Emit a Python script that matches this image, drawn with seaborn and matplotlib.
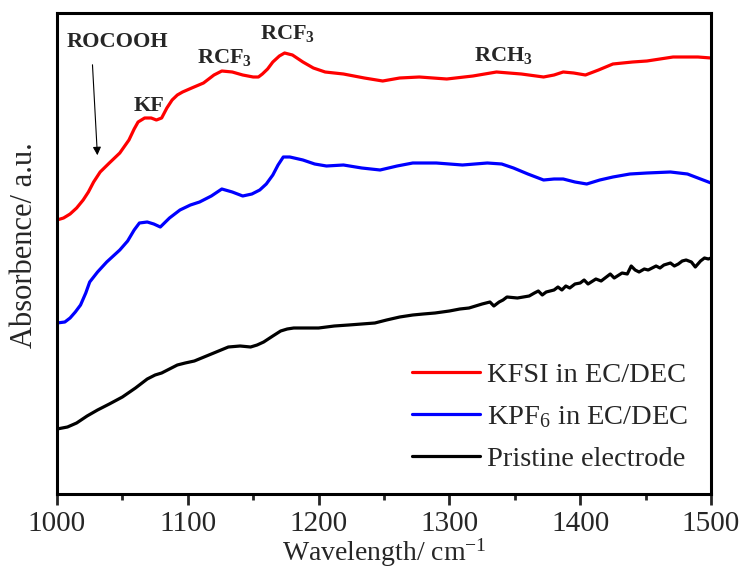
import numpy as np
import pandas as pd
import matplotlib
matplotlib.use("Agg")
import matplotlib.pyplot as plt
import seaborn as sns
from matplotlib.ticker import MultipleLocator

# ---- data ----
red_x = [1000, 1005, 1010, 1015, 1020, 1024, 1028, 1033, 1040, 1048, 1055, 1059, 1062, 1067,
         1072, 1076, 1080, 1084, 1088, 1092, 1096, 1103, 1112, 1120, 1126, 1134, 1142, 1150,
         1154, 1157, 1161, 1165, 1170, 1174, 1180, 1188, 1196, 1205, 1219, 1235, 1249, 1262,
         1277, 1298, 1318, 1336, 1355, 1372, 1380, 1387, 1395, 1404, 1414, 1425, 1440, 1451,
         1471, 1490, 1500]
red_y = [2.74, 2.76, 2.80, 2.86, 2.94, 3.02, 3.12, 3.22, 3.31, 3.41, 3.54, 3.65, 3.72, 3.76,
         3.76, 3.74, 3.76, 3.86, 3.94, 3.99, 4.02, 4.06, 4.11, 4.19, 4.23, 4.22, 4.19, 4.17,
         4.17, 4.20, 4.25, 4.32, 4.38, 4.41, 4.39, 4.32, 4.26, 4.22, 4.20, 4.16, 4.13, 4.16,
         4.17, 4.15, 4.18, 4.22, 4.20, 4.17, 4.19, 4.22, 4.21, 4.19, 4.24, 4.30, 4.32, 4.33,
         4.37, 4.37, 4.36]

blue_x = [1000, 1006, 1010, 1014, 1018, 1022, 1025, 1031, 1038, 1048, 1054, 1059, 1063, 1069,
          1074, 1079, 1086, 1094, 1102, 1109, 1118, 1126, 1134, 1142, 1149, 1155, 1160, 1165,
          1169, 1173, 1178, 1188, 1197, 1206, 1219, 1233, 1247, 1260, 1272, 1290, 1310, 1329,
          1340, 1349, 1360, 1372, 1380, 1387, 1396, 1405, 1415, 1425, 1438, 1451, 1469, 1482,
          1490, 1500]
blue_y = [1.71, 1.72, 1.76, 1.82, 1.89, 2.01, 2.12, 2.22, 2.32, 2.44, 2.53, 2.64, 2.71, 2.72,
          2.70, 2.67, 2.76, 2.84, 2.89, 2.92, 2.98, 3.05, 3.02, 2.98, 3.00, 3.04, 3.10, 3.19,
          3.29, 3.37, 3.37, 3.34, 3.30, 3.28, 3.29, 3.26, 3.24, 3.28, 3.31, 3.31, 3.29, 3.31,
          3.30, 3.26, 3.20, 3.14, 3.15, 3.15, 3.12, 3.10, 3.14, 3.17, 3.20, 3.21, 3.22, 3.20,
          3.16, 3.11]

black_x = [1000, 1008, 1015, 1023, 1031, 1040, 1050, 1060, 1069, 1075, 1080, 1086, 1092, 1098,
           1105, 1118, 1131, 1140, 1148, 1153, 1158, 1165, 1171, 1176, 1181, 1190, 1200, 1212,
           1223, 1233, 1243, 1252, 1262, 1272, 1280, 1289, 1300, 1308, 1315, 1320, 1325, 1331,
           1334, 1338, 1341, 1344, 1352, 1361, 1365, 1368, 1371, 1374, 1380, 1383, 1386, 1389,
           1392, 1396, 1400, 1403, 1406, 1412, 1416, 1420, 1423, 1426, 1432, 1436, 1439, 1442,
           1445, 1449, 1452, 1458, 1461, 1464, 1469, 1472, 1475, 1478, 1481, 1485, 1488, 1492,
           1495, 1498, 1500]
black_y = [0.65, 0.67, 0.71, 0.78, 0.84, 0.90, 0.97, 1.06, 1.15, 1.19, 1.21, 1.25, 1.29, 1.31,
           1.33, 1.40, 1.47, 1.48, 1.47, 1.49, 1.52, 1.58, 1.63, 1.65, 1.66, 1.66, 1.66, 1.68,
           1.69, 1.70, 1.71, 1.74, 1.77, 1.79, 1.80, 1.81, 1.83, 1.85, 1.86, 1.88, 1.90, 1.92,
           1.88, 1.92, 1.94, 1.97, 1.96, 1.98, 2.01, 2.03, 1.99, 2.02, 2.04, 2.07, 2.04, 2.08,
           2.06, 2.10, 2.11, 2.14, 2.10, 2.15, 2.13, 2.17, 2.20, 2.16, 2.21, 2.20, 2.28, 2.24,
           2.22, 2.25, 2.24, 2.28, 2.26, 2.29, 2.31, 2.28, 2.30, 2.33, 2.34, 2.32, 2.27, 2.33,
           2.36, 2.35, 2.36]

labels = ["KFSI in EC/DEC", "KPF$_6$ in EC/DEC", "Pristine electrode"]
colors = ["#ff0000", "#0000ff", "#000000"]

df = pd.concat([
    pd.DataFrame({"x": red_x, "y": red_y, "s": labels[0]}),
    pd.DataFrame({"x": blue_x, "y": blue_y, "s": labels[1]}),
    pd.DataFrame({"x": black_x, "y": black_y, "s": labels[2]}),
])

sns.set_style("white")
plt.rcParams["font.family"] = ["Liberation Serif", "DejaVu Serif"]
plt.rcParams["mathtext.default"] = "regular"

fig = plt.figure(figsize=(7.43, 5.75), dpi=100)
ax = fig.add_axes([57 / 743, 81 / 575, 654 / 743, 481 / 575])

sns.lineplot(data=df, x="x", y="y", hue="s", palette=dict(zip(labels, colors)),
             hue_order=labels, sort=False, lw=2.3, ax=ax, estimator=None)

ax.set_xlim(1000, 1500)
ax.set_ylim(0, 4.81)
ax.xaxis.set_major_locator(MultipleLocator(100))
ax.xaxis.set_minor_locator(MultipleLocator(50))
ax.tick_params(axis="x", which="major", direction="out", length=8, width=2,
               labelsize=21, pad=4, bottom=True)
ax.tick_params(axis="x", which="minor", direction="out", length=4, width=2, bottom=True)
ax.set_yticks([])
for sp in ax.spines.values():
    sp.set_linewidth(2.2)
    sp.set_color("black")

ax.set_xlabel("Wavelength/ cm$^{-1}$", fontsize=20, labelpad=0)
ax.set_ylabel("Absorbence/ a.u.", fontsize=22)
ax.yaxis.set_label_coords(-0.028, 0.518)

leg = ax.legend(loc="lower right", bbox_to_anchor=(1.0, -0.002), frameon=False,
                fontsize=20.5, handlelength=2.4, handletextpad=0.25, labelspacing=0.56,
                borderaxespad=0.4)
for h in leg.get_lines():
    h.set_linewidth(2.3)

tk = dict(fontsize=16, fontweight="bold", ha="center", va="center")
ax.text(1046, 4.52, "ROCOOH", **tk)
ax.text(1070, 3.88, "KF", **tk)
ax.text(1128, 4.37, "RCF$_3$", **tk)
ax.text(1176, 4.61, "RCF$_3$", **tk)
ax.text(1341, 4.38, "RCH$_3$", **tk)
ax.annotate("", xy=(1031, 3.36), xytext=(1027, 4.32),
            arrowprops=dict(arrowstyle="-|>", color="black", lw=0.8, mutation_scale=12))

fig.savefig("out.png", dpi=100)
